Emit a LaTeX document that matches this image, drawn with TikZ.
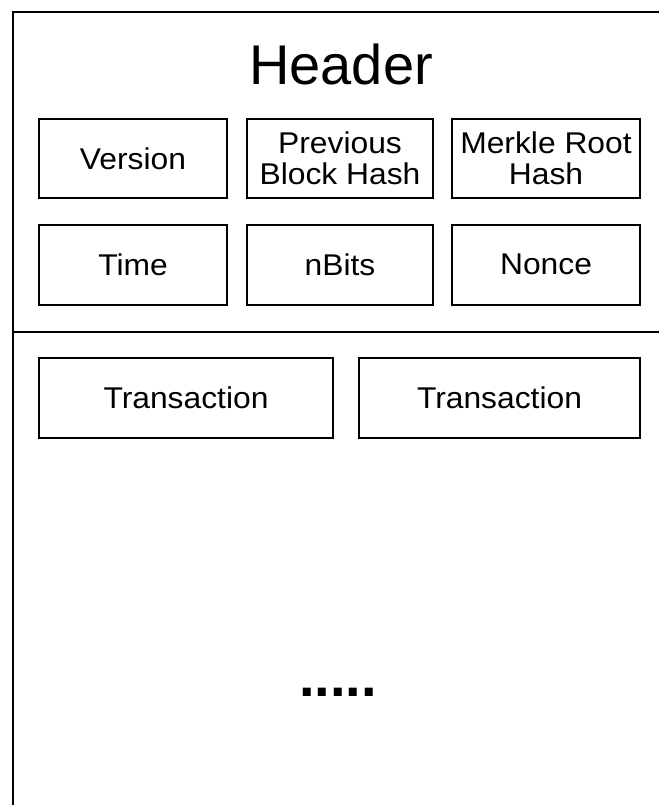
\documentclass[tikz,border=0pt]{standalone}
\usepackage{fontspec}
\setmainfont{Liberation Sans}
\newfontfamily\boxfont[FakeStretch=1.06]{Liberation Sans}
\begin{document}
\begin{tikzpicture}[x=1pt,y=-1pt,
  field/.style={draw=black, line width=2pt, rectangle, align=center, inner sep=0pt,
    font=\boxfont\fontsize{30}{31}\selectfont, minimum height=79pt},
  frame/.style={line width=2.4pt}]
\useasboundingbox (0,0) rectangle (659,805);
\coordinate (tr) at (659,12);
\coordinate (tl) at (13,12);
\coordinate (bl) at (13,805);
\coordinate (dl) at (13,332);
\coordinate (dr) at (659,332);
\draw[frame] (tr) -- (tl) -- (bl);
\draw[frame] (dl) -- (dr);
\node[font=\fontsize{56}{62}\selectfont] (header) at (341,64) {Header};
\node[field, minimum width=188pt] (version) at (133,158.5) {Version};
\node[field, minimum width=186pt] (prev) at (340,158.5) {Previous\\Block Hash};
\node[field, minimum width=188pt] (merkle) at (546,158.5) {Merkle Root\\Hash};
\node[field, minimum width=188pt, minimum height=80pt] (time) at (133,264.5) {Time};
\node[field, minimum width=186pt, minimum height=80pt] (nbits) at (340,264.5) {nBits};
\node[field, minimum width=188pt, minimum height=80pt] (nonce) at (546,264.5) {Nonce};
\node[field, minimum width=294pt, minimum height=80pt] (tx1) at (186,398) {Transaction};
\node[field, minimum width=281pt, minimum height=80pt] (tx2) at (499.5,398) {Transaction};
\node[font=\fontsize{56}{60}\bfseries\selectfont, inner sep=0pt] (dots) at (338,692) {.....};
\end{tikzpicture}
\end{document}
